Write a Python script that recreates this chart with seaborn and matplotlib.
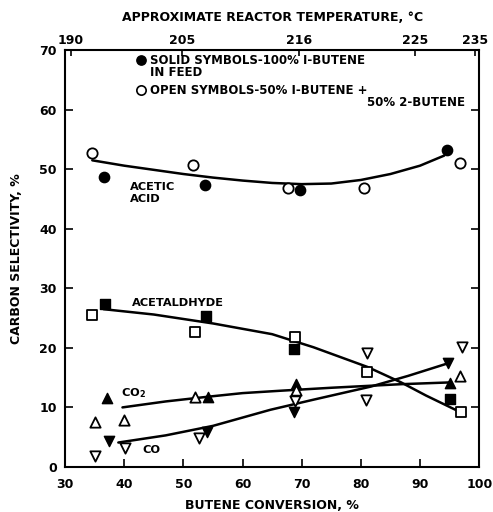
import matplotlib
matplotlib.use("Agg")
import matplotlib.pyplot as plt
import seaborn as sns
import pandas as pd

# ---- data ----
# Acetic acid
acetic_solid_x = [36.6, 53.6, 69.7, 94.5]
acetic_solid_y = [48.7, 47.4, 46.5, 53.2]
acetic_open_x = [34.6, 51.6, 67.7, 80.6, 96.7]
acetic_open_y = [52.7, 50.7, 46.9, 46.9, 51.1]
acetic_curve_x = [34.6, 40, 45, 50, 55, 60, 65, 70, 75, 80, 85, 90, 94.1]
acetic_curve_y = [51.5, 50.6, 49.9, 49.2, 48.6, 48.1, 47.7, 47.5, 47.6, 48.2, 49.2, 50.6, 52.3]

# Acetaldehyde
acet_solid_x = [36.7, 53.9, 68.7, 95.1]
acet_solid_y = [27.3, 25.4, 19.8, 11.4]
acet_open_x = [34.6, 51.9, 68.8, 81.0, 96.9]
acet_open_y = [25.6, 22.7, 21.9, 16.0, 9.2]
acet_curve_x = [36.5, 45, 55, 65, 72, 81.1, 86.8, 91, 96.4]
acet_curve_y = [26.5, 25.6, 24.1, 22.3, 20.1, 16.8, 14.2, 12.0, 9.4]

# CO2
co2_solid_x = [37.1, 54.2, 69.1, 95.1]
co2_solid_y = [11.5, 11.8, 14.0, 14.1]
co2_open_x = [35.0, 40.0, 51.9, 69.1, 96.8]
co2_open_y = [7.6, 7.9, 11.8, 12.9, 15.3]
co2_curve_x = [39.7, 47, 54.2, 60, 66.4, 75, 86.8, 95.1]
co2_curve_y = [10.0, 11.0, 11.8, 12.4, 12.8, 13.3, 13.9, 14.2]

# CO
co_solid_x = [37.5, 54.0, 68.7, 94.7]
co_solid_y = [4.4, 5.9, 9.2, 17.4]
co_open_x = [35.0, 40.1, 52.6, 68.9, 81.0, 80.8, 97.1]
co_open_y = [1.9, 3.1, 4.8, 11.0, 19.2, 11.2, 20.1]
co_curve_x = [39.0, 47, 55, 64.7, 72, 81.7, 88, 94.7]
co_curve_y = [4.1, 5.3, 6.9, 9.6, 11.3, 13.5, 15.3, 17.4]

# axis ticks
x_ticks = [30, 40, 50, 60, 70, 80, 90, 100]
y_ticks = [0, 10, 20, 30, 40, 50, 60, 70]
temp_pos = [31.0, 49.8, 69.5, 89.2, 99.3]
temp_labels = ["190", "205", "216", "225", "235"]

sns.set_theme(style="white")
plt.rcParams['font.family'] = ['DejaVu Sans']
plt.rcParams['font.weight'] = 'bold'
plt.rcParams['text.color'] = 'black'
plt.rcParams['axes.labelcolor'] = 'black'
plt.rcParams['xtick.color'] = 'black'
plt.rcParams['ytick.color'] = 'black'

fig = plt.figure(figsize=(4.93, 5.12), dpi=100)
ax = fig.add_axes([0.132, 0.088, 0.84, 0.814])

# curves
for cx, cy in [(acetic_curve_x, acetic_curve_y), (acet_curve_x, acet_curve_y),
               (co2_curve_x, co2_curve_y), (co_curve_x, co_curve_y)]:
    sns.lineplot(x=cx, y=cy, ax=ax, color="black", lw=1.8, sort=False, estimator=None)

ms = 55
def solid(x, y, m):
    sns.scatterplot(x=x, y=y, ax=ax, marker=m, s=ms, color="black", edgecolor="black", linewidth=1, zorder=3)
def hollow(x, y, m):
    sns.scatterplot(x=x, y=y, ax=ax, marker=m, s=ms, facecolor="white", edgecolor="black", linewidth=1.3, zorder=3)

solid(acetic_solid_x, acetic_solid_y, "o")
hollow(acetic_open_x, acetic_open_y, "o")
solid(acet_solid_x, acet_solid_y, "s")
hollow(acet_open_x, acet_open_y, "s")
solid(co2_solid_x, co2_solid_y, "^")
hollow(co2_open_x, co2_open_y, "^")
solid(co_solid_x, co_solid_y, "v")
hollow(co_open_x, co_open_y, "v")

ax.set_xlim(30, 100)
ax.set_ylim(0, 70)
ax.set_xticks(x_ticks)
ax.set_yticks(y_ticks)
ax.tick_params(axis="both", direction="in", length=6, width=1.2, labelsize=9, colors="black",
               right=True, left=True, bottom=True)
ax.tick_params(axis="x", pad=8)
ax.tick_params(axis="y", labelright=False, pad=6)
for lab in ax.get_xticklabels() + ax.get_yticklabels():
    lab.set_fontweight("bold")
for sp in ax.spines.values():
    sp.set_color("black")
    sp.set_linewidth(1.5)

ax.set_xlabel("BUTENE CONVERSION, %", fontsize=9, fontweight="bold", labelpad=6)
ax.set_ylabel("CARBON SELECTIVITY, %", fontsize=9, fontweight="bold", labelpad=12)

top = ax.twiny()
top.set_xlim(30, 100)
top.set_xticks(temp_pos)
top.set_xticklabels(temp_labels, fontsize=9, fontweight="bold")
top.tick_params(axis="x", direction="in", length=4, width=1.2, pad=2, colors="black")
top.set_xlabel("APPROXIMATE REACTOR TEMPERATURE, °C", fontsize=9, fontweight="bold", labelpad=10)
for sp in top.spines.values():
    sp.set_visible(False)

# legend-like annotations
tk = dict(fontsize=8.5, fontweight="bold", color="black")
ax.scatter([42.8], [68.3], marker="o", s=45, color="black", zorder=4)
ax.text(44.4, 68.3, "SOLID SYMBOLS-100% I-BUTENE", va="center", ha="left", **tk)
ax.text(44.4, 66.2, "IN FEED", va="center", ha="left", **tk)
ax.scatter([42.8], [63.3], marker="o", s=45, facecolor="white", edgecolor="black", linewidth=1.2, zorder=4)
ax.text(44.4, 63.3, "OPEN SYMBOLS-50% I-BUTENE +", va="center", ha="left", **tk)
ax.text(97.6, 61.2, "50% 2-BUTENE", va="center", ha="right", **tk)

tk2 = dict(fontsize=8.2, fontweight="bold", color="black")
ax.text(40.9, 47.0, "ACETIC", ha="left", va="center", **tk2)
ax.text(40.9, 45.0, "ACID", ha="left", va="center", **tk2)
ax.text(41.3, 27.6, "ACETALDHYDE", ha="left", va="center", **tk2)
ax.text(39.5, 12.4, "CO$_2$", ha="left", va="center", **tk2)
ax.text(43.1, 2.8, "CO", ha="left", va="center", **tk2)

fig.savefig("out.png", dpi=100)
